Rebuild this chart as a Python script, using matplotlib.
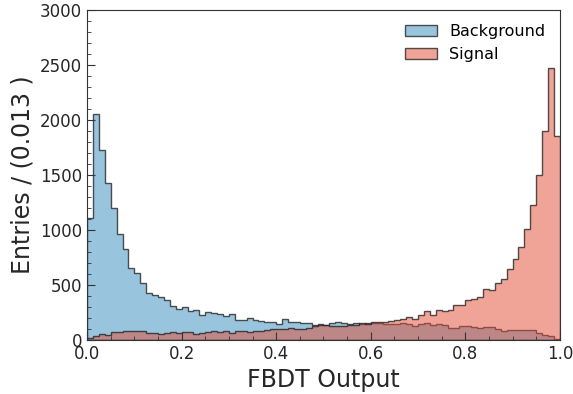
import numpy as np
import matplotlib
matplotlib.use('Agg')
import matplotlib.pyplot as plt
from matplotlib.ticker import MultipleLocator

# 80 bins over the FBDT output range [0, 1]
n_bins = 80
edges = np.linspace(0.0, 1.0, n_bins + 1)
centers = 0.5 * (edges[:-1] + edges[1:])

# entries per bin
background = [1106, 2052, 1727, 1430, 1197, 964, 830, 655, 612, 515, 430, 406, 394, 364, 309, 282, 303, 260,
              273, 227, 251, 242, 233, 218, 236, 182, 182, 197, 182, 173, 167, 167, 142, 188, 161,
              161, 152, 152, 136, 148, 139, 152, 161, 158, 142, 158, 150, 158, 152, 155, 150, 148, 150,
              152, 142, 130, 148, 152, 139, 142, 139, 106, 109, 130, 130, 121, 112, 121, 115, 103, 85, 88,
              90, 88, 95, 90, 62, 45, 38, 12]
signal = [15, 36, 55, 48, 73, 73, 82, 85, 79, 82, 67, 67, 58, 67, 73, 67, 76, 70,
          55, 67, 70, 79, 73, 82, 67, 79, 85, 76, 82, 85, 91, 97, 100, 97, 106,
          100, 103, 110, 130, 135, 132, 128, 130, 125, 135, 140, 158, 145, 161, 161, 167, 176, 182,
          188, 212, 194, 224, 261, 224, 273, 264, 273, 321, 321, 364, 370, 394, 467, 455, 515, 558, 642,
          736, 848, 1012, 1227, 1500, 1900, 2470, 1855]

labels = ['Background', 'Signal']
colors = ['#348ABD', '#E24A33']

fig = plt.figure(figsize=(5.73, 3.94), dpi=100)
ax = fig.add_axes([0.152, 0.137, 0.825, 0.838])

for w, lab, c in zip([background, signal], labels, colors):
    ax.hist(centers, bins=edges, weights=w, histtype='stepfilled',
            facecolor=matplotlib.colors.to_rgba(c, 0.5),
            edgecolor=(0.1, 0.1, 0.1, 0.75), linewidth=1.0, label=lab)

ax.set_xlim(0, 1)
ax.set_ylim(0, 3000)
ax.xaxis.set_major_locator(MultipleLocator(0.2))
ax.xaxis.set_minor_locator(MultipleLocator(0.05))
ax.yaxis.set_major_locator(MultipleLocator(500))
ax.yaxis.set_minor_locator(MultipleLocator(100))
ax.tick_params(which='both', direction='in', colors='#333333', labelcolor='#262626', labelsize=12)
ax.tick_params(which='major', length=6)
ax.tick_params(which='minor', length=3)
for s in ax.spines.values():
    s.set_color('#333333')

ax.set_xlabel('FBDT Output', fontsize=17, color='#262626', labelpad=4)
ax.set_ylabel('Entries / (0.013 )', fontsize=17, color='#262626')
ax.legend(loc='upper right', frameon=False, fontsize=11.5)

fig.savefig('out.png', dpi=100)
